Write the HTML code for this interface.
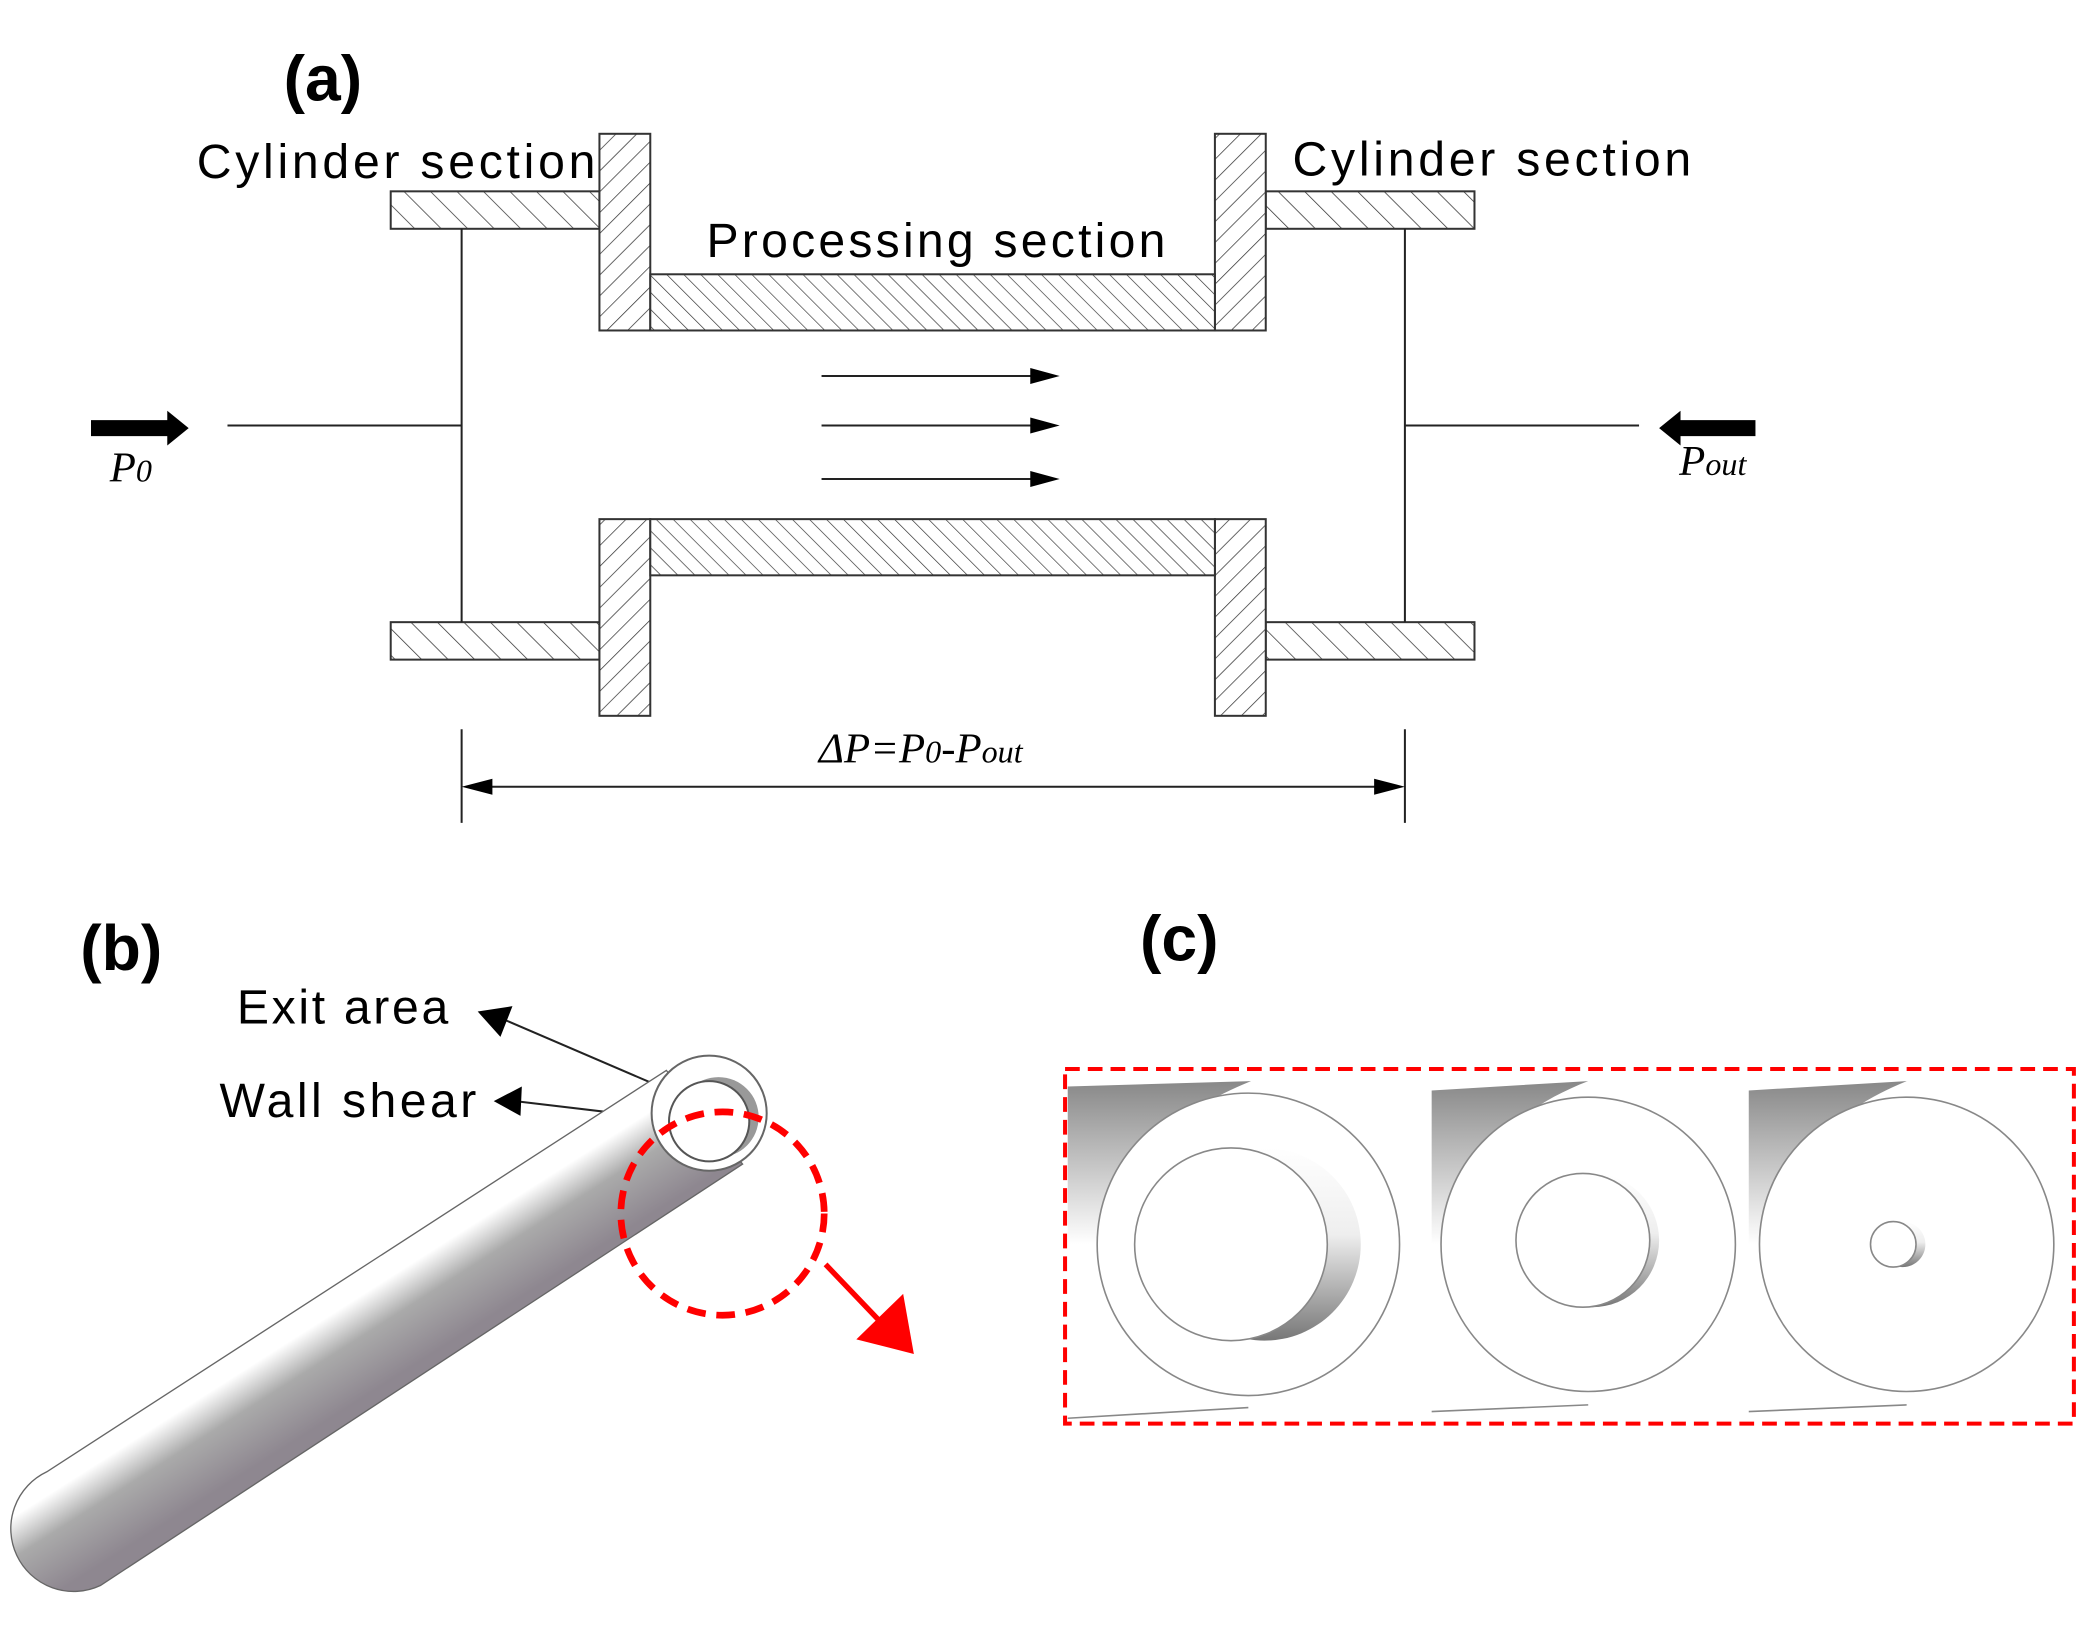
<!DOCTYPE html>
<html><head><meta charset="utf-8"><style>html,body{margin:0;padding:0;background:#fff}svg{display:block}</style></head><body>
<svg width="2098" height="1631" viewBox="0 0 1568 1219" xmlns="http://www.w3.org/2000/svg" font-family="Liberation Sans, sans-serif">
<defs>
<pattern id="hb" patternUnits="userSpaceOnUse" width="14" height="14" patternTransform="rotate(-45)"><rect width="14" height="14" fill="#fff"/><line x1="0" y1="0" x2="0" y2="14" stroke="#333" stroke-width="1.1"/></pattern>
<pattern id="hf" patternUnits="userSpaceOnUse" width="11" height="11" patternTransform="rotate(45)"><rect width="11" height="11" fill="#fff"/><line x1="0" y1="0" x2="0" y2="11" stroke="#333" stroke-width="1.1"/></pattern>
<pattern id="hp" patternUnits="userSpaceOnUse" width="9" height="9" patternTransform="rotate(-45)"><rect width="9" height="9" fill="#fff"/><line x1="0" y1="0" x2="0" y2="9" stroke="#333" stroke-width="1"/></pattern>
<linearGradient id="tube" gradientUnits="userSpaceOnUse" x1="275" y1="965" x2="310" y2="1020"><stop offset="0" stop-color="#fff"/><stop offset="0.4" stop-color="#aaa"/><stop offset="1" stop-color="#8e8790"/></linearGradient>
<linearGradient id="wedge" x1="0" y1="0" x2="0" y2="1"><stop offset="0" stop-color="#888"/><stop offset="1" stop-color="#fff"/></linearGradient>
<linearGradient id="cres" x1="0" y1="0" x2="0" y2="1"><stop offset="0" stop-color="#fff"/><stop offset="0.45" stop-color="#eee"/><stop offset="1" stop-color="#777"/></linearGradient>
</defs>
<text x="212" y="75" font-size="48" font-weight="bold">(a)</text>
<text x="147" y="133" font-size="36" textLength="298">Cylinder section</text>
<text x="966" y="131" font-size="36" textLength="298">Cylinder section</text>
<text x="528" y="192" font-size="36" textLength="343">Processing section</text>
<g stroke="#333" stroke-width="1.5">
<rect x="292" y="143" width="156" height="28" fill="url(#hb)"/>
<rect x="946" y="143" width="156" height="28" fill="url(#hb)"/>
<rect x="292" y="465" width="156" height="28" fill="url(#hb)"/>
<rect x="946" y="465" width="156" height="28" fill="url(#hb)"/>
<rect x="448" y="100" width="38" height="147" fill="url(#hf)"/>
<rect x="908" y="100" width="38" height="147" fill="url(#hf)"/>
<rect x="448" y="388" width="38" height="147" fill="url(#hf)"/>
<rect x="908" y="388" width="38" height="147" fill="url(#hf)"/>
<rect x="486" y="205" width="422" height="42" fill="url(#hp)"/>
<rect x="486" y="388" width="422" height="42" fill="url(#hp)"/>
</g>
<g stroke="#222" stroke-width="1.5" fill="none">
<line x1="345" y1="171" x2="345" y2="465"/><line x1="1050" y1="171" x2="1050" y2="465"/>
<line x1="170" y1="318" x2="345" y2="318"/><line x1="1050" y1="318" x2="1225" y2="318"/>
<line x1="614" y1="281" x2="775" y2="281"/>
<line x1="614" y1="318" x2="775" y2="318"/>
<line x1="614" y1="358" x2="775" y2="358"/>
<line x1="345" y1="545" x2="345" y2="615"/><line x1="1050" y1="545" x2="1050" y2="615"/>
<line x1="360" y1="588" x2="1035" y2="588"/>
</g>
<path d="M792,281 L770,275 L770,287z M792,318 L770,312 L770,324z M792,358 L770,352 L770,364z" fill="#000"/>
<path d="M345,588 L368,582 L368,594z M1050,588 L1027,582 L1027,594z" fill="#000"/>
<path d="M68,314 H125 V307 L141,320 L125,333 V326 H68z" fill="#000"/>
<path d="M1312,314 H1256 V307 L1240,320 L1256,333 V326 H1312z" fill="#000"/>
<g font-family="Liberation Serif, serif" font-style="italic" font-size="32">
<text x="82" y="360">P<tspan font-size="24">0</tspan></text>
<text x="1255" y="355">P<tspan font-size="24">out</tspan></text>
<text x="612" y="570">ΔP=P<tspan font-size="24">0</tspan>-P<tspan font-size="24">out</tspan></text>
</g>
<text x="60" y="725" font-size="48" font-weight="bold">(b)</text>
<text x="852" y="718" font-size="48" font-weight="bold">(c)</text>
<text x="177" y="765" font-size="36" textLength="158">Exit area</text>
<text x="164" y="835" font-size="36" textLength="192">Wall shear</text>
<g stroke="#222" stroke-width="1.5">
<line x1="507" y1="818" x2="372" y2="760"/><line x1="495" y1="836" x2="385" y2="823"/>
</g>
<path d="M357,756 L383,752 L374,775z M369,823 L390,812 L389,834z" fill="#000"/>
<path d="M498,800 L35,1100 A45,45 0 0 0 75,1185 L555,870z" fill="url(#tube)" stroke="#666" stroke-width="1"/>
<circle cx="530" cy="832" r="43" fill="#fff" stroke="#666" stroke-width="1.5"/>
<circle cx="537" cy="835" r="30" fill="#999"/>
<circle cx="530" cy="838" r="30" fill="#fff" stroke="#555" stroke-width="1.5"/>
<circle cx="540" cy="907" r="76" fill="none" stroke="#f00" stroke-width="5" stroke-dasharray="14,8"/>
<line x1="617" y1="945" x2="660" y2="990" stroke="#f00" stroke-width="4"/>
<path d="M640,1001 L675,967 L683,1012z" fill="#f00"/>
<rect x="796" y="799" width="754" height="265" fill="none" stroke="#f00" stroke-width="3" stroke-dasharray="11,6"/>
<g stroke="#888" stroke-width="1.2">
<path d="M798,812 L935,808 C880,830 830,870 820,930 L798,930z" fill="url(#wedge)" stroke="none"/>
<path d="M1070,815 L1187,808 C1130,830 1090,870 1080,930 L1070,930z" fill="url(#wedge)" stroke="none"/>
<path d="M1307,815 L1425,808 C1370,830 1330,870 1318,930 L1307,930z" fill="url(#wedge)" stroke="none"/>
<line x1="798" y1="1060" x2="933" y2="1052"/><line x1="1070" y1="1055" x2="1187" y2="1050"/><line x1="1307" y1="1055" x2="1425" y2="1050"/>
<circle cx="933" cy="930" r="113" fill="#fff"/>
<circle cx="945" cy="930" r="72" fill="url(#cres)" stroke="none"/>
<circle cx="920" cy="930" r="72" fill="#fff"/>
<circle cx="1187" cy="930" r="110" fill="#fff"/>
<circle cx="1190" cy="927" r="50" fill="url(#cres)" stroke="none"/>
<circle cx="1183" cy="927" r="50" fill="#fff"/>
<circle cx="1425" cy="930" r="110" fill="#fff"/>
<circle cx="1422" cy="930" r="17" fill="url(#cres)" stroke="none"/>
<circle cx="1415" cy="930" r="17" fill="#fff"/>
</g>
</svg>
</body></html>
